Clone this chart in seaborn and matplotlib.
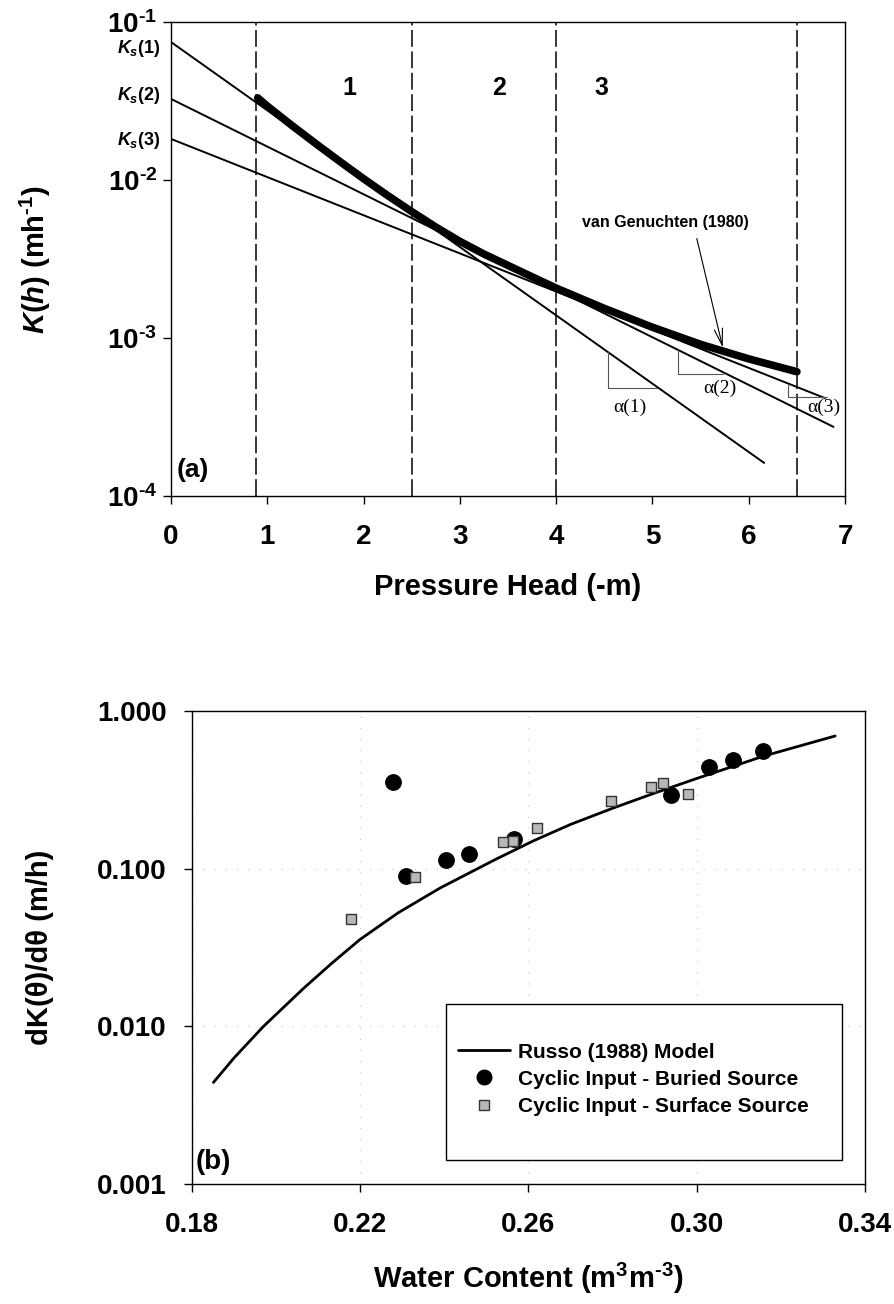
import matplotlib
matplotlib.use("Agg")
import matplotlib.pyplot as plt
import seaborn as sns
from matplotlib.patches import Rectangle
from matplotlib.lines import Line2D
from matplotlib.ticker import NullLocator

# ---------------- Panel (a) data ----------------
vg_head = [0.9, 1.0, 1.25, 1.5, 1.75, 2.0, 2.25, 2.5, 2.75, 3.0, 3.25, 3.5,
           3.75, 4.0, 4.5, 5.0, 5.5, 6.0, 6.5]
vg_K = [0.03311, 0.02938, 0.02228, 0.01706, 0.01315, 0.01019, 0.00798,
        0.00631, 0.00504, 0.00409, 0.00340, 0.00288, 0.00244, 0.00207,
        0.00154, 0.00117, 0.000912, 0.000738, 0.000612]

ks1_head = [0.0, 6.16]
ks1_K = [0.0747, 0.000162]
ks2_head = [0.0, 6.88]
ks2_K = [0.0326, 0.000274]
ks3_head = [0.0, 6.79]
ks3_K = [0.0182, 0.000417]
ks_labels = ["$K_s$(1)", "$K_s$(2)", "$K_s$(3)"]
ks_label_K = [0.0684, 0.0345, 0.0179]

boundaries = [0.88, 2.5, 4.0, 6.5]
region_labels = ["1", "2", "3"]
region_x = [1.85, 3.41, 4.47]
region_K = 0.0382

tri1_head = [4.54, 4.54, 5.05]
tri1_K = [8.13e-4, 4.83e-4, 4.83e-4]
tri2_head = [5.26, 5.26, 5.73]
tri2_K = [8.43e-4, 5.92e-4, 5.92e-4]
tri3_head = [6.41, 6.41, 6.81]
tri3_K = [5.15e-4, 4.24e-4, 4.24e-4]
alpha_labels = ["\u03b1(1)", "\u03b1(2)", "\u03b1(3)"]
alpha_x = [4.77, 5.70, 6.78]
alpha_K = [3.66e-4, 4.83e-4, 3.66e-4]

top_xticks = [0, 1, 2, 3, 4, 5, 6, 7]
top_yticks = [1e-4, 1e-3, 1e-2, 1e-1]
top_yticklabels = [r"$10^{\text{-4}}$", r"$10^{\text{-3}}$",
                   r"$10^{\text{-2}}$", r"$10^{\text{-1}}$"]

# ---------------- Panel (b) data ----------------
russo_theta = [0.1851, 0.190, 0.197, 0.2065, 0.2132, 0.2199, 0.229, 0.239,
               0.252, 0.2611, 0.270, 0.2802, 0.290, 0.3008, 0.316, 0.3329]
russo_dK = [0.00441, 0.00631, 0.0100, 0.0174, 0.0251, 0.0355, 0.0525, 0.0755,
            0.114, 0.150, 0.191, 0.243, 0.302, 0.380, 0.519, 0.695]

buried_theta = [0.2277, 0.2309, 0.2403, 0.2459, 0.2566, 0.2939, 0.3028,
                0.3087, 0.3158]
buried_dK = [0.355, 0.0894, 0.113, 0.124, 0.155, 0.294, 0.44, 0.49, 0.56]

surface_theta = [0.2178, 0.2330, 0.2540, 0.2562, 0.2620, 0.2796, 0.2891,
                 0.2920, 0.2978]
surface_dK = [0.048, 0.0885, 0.148, 0.151, 0.180, 0.270, 0.330, 0.352, 0.297]

bot_xticks = [0.18, 0.22, 0.26, 0.30, 0.34]
bot_xticklabels = ["0.18", "0.22", "0.26", "0.30", "0.34"]
bot_yticks = [0.001, 0.01, 0.1, 1.0]
bot_yticklabels = ["0.001", "0.010", "0.100", "1.000"]
legend_labels = ["Russo (1988) Model", "Cyclic Input - Buried Source",
                 "Cyclic Input - Surface Source"]

# ---------------- Style ----------------
sns.set_style("ticks")
plt.rcParams["font.family"] = ["Liberation Sans", "DejaVu Sans"]
plt.rcParams["font.weight"] = "bold"
plt.rcParams["mathtext.fontset"] = "custom"
plt.rcParams["mathtext.rm"] = "Liberation Sans:bold"
plt.rcParams["mathtext.bf"] = "Liberation Sans:bold"
plt.rcParams["mathtext.sf"] = "Liberation Sans:bold"
plt.rcParams["mathtext.it"] = "Liberation Sans:italic:bold"
plt.rcParams["axes.edgecolor"] = "black"
plt.rcParams["xtick.color"] = "black"
plt.rcParams["ytick.color"] = "black"
plt.rcParams["text.color"] = "black"
plt.rcParams["axes.labelcolor"] = "black"

fig = plt.figure(figsize=(8.95, 13.04), dpi=100)
ax1 = fig.add_axes([0.1911, 0.6196, 0.7531, 0.3635])
ax2 = fig.add_axes([0.2145, 0.0920, 0.7520, 0.3627])

# ---------------- Panel (a) ----------------
ax1.set_yscale("log")
ax1.set_xlim(0, 7)
ax1.set_ylim(1e-4, 1e-1)

for b in boundaries:
    ax1.axvline(b, color="black", lw=1.1, linestyle=(0, (11, 3)), zorder=1)

for hx, ky in [(ks1_head, ks1_K), (ks2_head, ks2_K), (ks3_head, ks3_K)]:
    sns.lineplot(x=hx, y=ky, ax=ax1, color="black", lw=1.4, zorder=2)

sns.lineplot(x=vg_head, y=vg_K, ax=ax1, color="black", lw=5.5,
             solid_capstyle="round", zorder=3)

for th, tk in [(tri1_head, tri1_K), (tri2_head, tri2_K), (tri3_head, tri3_K)]:
    sns.lineplot(x=th, y=tk, ax=ax1, color="#555555", lw=0.8, sort=False,
                 estimator=None, zorder=2)

for lab, xx, kk in zip(alpha_labels, alpha_x, alpha_K):
    ax1.text(xx, kk, lab, family=["Liberation Serif", "DejaVu Serif"],
             fontweight="normal", fontsize=14, ha="center", va="center")

for lab, xx in zip(region_labels, region_x):
    ax1.text(xx, region_K, lab, fontsize=18, fontweight="bold",
             ha="center", va="center")

for lab, kk in zip(ks_labels, ks_label_K):
    ax1.text(-0.11, kk, lab, fontsize=13, fontweight="bold", ha="right",
             va="center", clip_on=False)

ax1.text(5.13, 10 ** -2.266, "van Genuchten (1980)", fontsize=11.5,
         fontweight="bold", ha="center", va="center")
ax1.annotate("", xy=(5.73, 10 ** -3.06), xytext=(5.46, 10 ** -2.37),
             arrowprops=dict(arrowstyle="->,head_length=1.2,head_width=0.3",
                             color="black", lw=0.8, shrinkA=0, shrinkB=0))
ax1.text(0.008, 0.055, "(a)", transform=ax1.transAxes, fontsize=19,
         fontweight="bold", ha="left", va="center")

ax1.set_xticks(top_xticks)
ax1.set_xticklabels([str(t) for t in top_xticks])
ax1.set_yticks(top_yticks)
ax1.set_yticklabels(top_yticklabels)
ax1.yaxis.set_minor_locator(NullLocator())
ax1.tick_params(direction="out", length=6, width=1, labelsize=20)
ax1.tick_params(axis="x", pad=14)
ax1.tick_params(axis="y", pad=4)
ax1.set_xlabel("Pressure Head (-m)", fontsize=21, fontweight="bold")
ax1.xaxis.set_label_coords(0.5, -0.163)
ax1.set_ylabel(r"$K(h)$ (mh$^{\text{-1}}$)", fontsize=21, fontweight="bold")
ax1.yaxis.set_label_coords(-0.175, 0.5)
for s in ax1.spines.values():
    s.set_linewidth(1.0)
    s.set_color("black")

# ---------------- Panel (b) ----------------
ax2.set_yscale("log")
ax2.set_xlim(0.18, 0.34)
ax2.set_ylim(0.001, 1.0)
ax2.grid(True, which="major", color="#c4c4c4", linestyle=(0, (1, 9)), lw=0.8)
ax2.set_axisbelow(True)

sns.lineplot(x=russo_theta, y=russo_dK, ax=ax2, color="black", lw=2.0,
             zorder=3)
sns.scatterplot(x=buried_theta, y=buried_dK, ax=ax2, color="black",
                marker="o", s=125, edgecolor="black", zorder=4)
sns.scatterplot(x=surface_theta, y=surface_dK, ax=ax2, color="#b8b8b8",
                marker="s", s=60, edgecolor="#333333", linewidth=1.0, zorder=5)

ax2.add_patch(Rectangle((0.377, 0.0507), 0.589, 0.33, transform=ax2.transAxes,
                        facecolor="white", edgecolor="black", lw=1.0, zorder=6))
handles = [
    Line2D([], [], color="black", lw=2.0),
    Line2D([], [], color="black", marker="o", linestyle="none", markersize=10.5),
    Line2D([], [], color="#b8b8b8", marker="s", linestyle="none", markersize=7,
           markeredgecolor="#333333"),
]
leg = ax2.legend(handles, legend_labels, loc="upper left",
                 bbox_to_anchor=(0.395, 0.299), frameon=False,
                 prop={"size": 15, "weight": "bold"}, handlelength=2.5,
                 handletextpad=0.4, labelspacing=0.39, borderpad=0,
                 borderaxespad=0)
leg.set_zorder(7)

ax2.text(0.005, 0.046, "(b)", transform=ax2.transAxes, fontsize=20,
         fontweight="bold", ha="left", va="center", zorder=8)

ax2.set_xticks(bot_xticks)
ax2.set_xticklabels(bot_xticklabels)
ax2.set_yticks(bot_yticks)
ax2.set_yticklabels(bot_yticklabels)
ax2.yaxis.set_minor_locator(NullLocator())
ax2.tick_params(direction="out", length=6, width=1, labelsize=20)
ax2.tick_params(axis="x", pad=14)
ax2.tick_params(axis="y", pad=12)
ax2.set_xlabel(r"Water Content (m$^{3}$m$^{\text{-3}}$)", fontsize=21,
               fontweight="bold")
ax2.xaxis.set_label_coords(0.5, -0.163)
ax2.set_ylabel("dK(\u03b8)/d\u03b8 (m/h)", fontsize=21, fontweight="bold")
ax2.yaxis.set_label_coords(-0.205, 0.5)
for s in ax2.spines.values():
    s.set_linewidth(1.0)
    s.set_color("black")

fig.savefig("out.png", dpi=100, facecolor="white")
